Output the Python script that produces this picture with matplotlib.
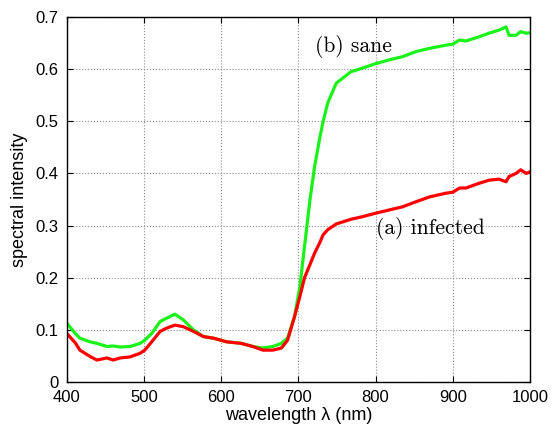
import matplotlib
matplotlib.use("Agg")
import matplotlib.pyplot as plt

# wavelength (nm) sample points
wl_low = [400, 411, 417, 430, 439, 452, 460, 469, 482, 495, 501, 510, 521, 529,
          540, 551, 564, 577, 590, 607, 626, 641, 654, 667, 678, 686, 695]
sane_low = [0.113, 0.093, 0.084, 0.077, 0.074, 0.068, 0.069, 0.067, 0.068, 0.074,
            0.080, 0.093, 0.116, 0.122, 0.130, 0.119, 0.100, 0.087, 0.084, 0.077,
            0.074, 0.068, 0.065, 0.068, 0.074, 0.084, 0.125]
infected_low = [0.093, 0.075, 0.061, 0.049, 0.042, 0.046, 0.042, 0.046, 0.048, 0.055,
                0.061, 0.077, 0.097, 0.103, 0.109, 0.106, 0.097, 0.087, 0.084, 0.077,
                0.074, 0.068, 0.061, 0.061, 0.065, 0.080, 0.125]

wl_high = [702, 708, 715, 721, 728, 732, 738, 749, 768, 783, 801, 818, 835, 853, 870,
           891, 900, 909, 917, 934, 947, 960, 969, 973, 982, 988, 995, 1000]
sane_high = [0.183, 0.260, 0.349, 0.413, 0.470, 0.499, 0.535, 0.573, 0.595, 0.602, 0.611,
             0.618, 0.624, 0.634, 0.640, 0.646, 0.648, 0.656, 0.654, 0.662, 0.669,
             0.675, 0.681, 0.665, 0.665, 0.672, 0.669, 0.670]
infected_high = [0.164, 0.200, 0.225, 0.247, 0.268, 0.282, 0.292, 0.303, 0.312, 0.317, 0.324,
                 0.330, 0.336, 0.346, 0.355, 0.362, 0.364, 0.372, 0.372, 0.381, 0.387,
                 0.389, 0.384, 0.394, 0.400, 0.407, 0.400, 0.403]

wl = wl_low + wl_high
sane = sane_low + sane_high
infected = infected_low + infected_high

plt.rcParams['font.family'] = ['Liberation Sans', 'DejaVu Sans']

fig = plt.figure(figsize=(5.52, 4.37), dpi=100)
ax = fig.add_axes([0.121, 0.126, 0.839, 0.835])

ax.plot(wl, sane, color=(0.1, 0.95, 0.1), lw=2.3)
ax.plot(wl, infected, color=(1.0, 0.0, 0.0), lw=2.3)

ax.set_xlim(400, 1000)
ax.set_ylim(0, 0.7)
ax.set_xticks([400, 500, 600, 700, 800, 900, 1000])
ax.set_yticks([0, 0.1, 0.2, 0.3, 0.4, 0.5, 0.6, 0.7])
ax.set_yticklabels(['0', '0.1', '0.2', '0.3', '0.4', '0.5', '0.6', '0.7'])
ax.tick_params(direction='in', top=True, right=True, labelsize=12, length=4, pad=6)
ax.grid(True, ls=':', lw=0.8, color='0.55')
for s in ax.spines.values():
    s.set_linewidth(1.0)

ax.set_xlabel('wavelength λ (nm)', fontsize=13, labelpad=1)
ax.set_ylabel('spectral intensity', fontsize=13, labelpad=5)

ax.text(721, 0.644, '(b) sane', family='cmr10', fontsize=15.5, va='center')
ax.text(801, 0.295, '(a) infected', family='cmr10', fontsize=15.5, va='center')

fig.savefig('out.png', dpi=100)
